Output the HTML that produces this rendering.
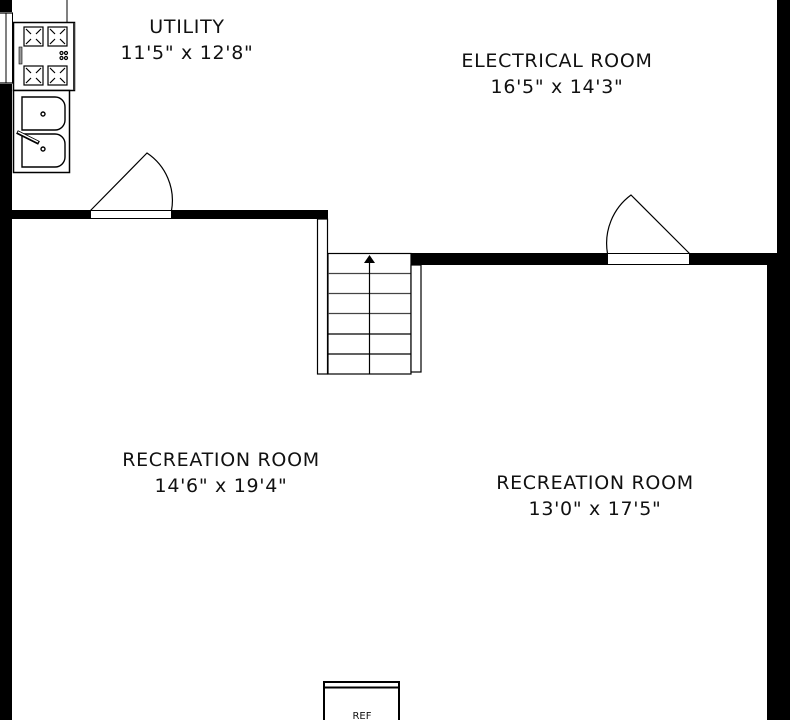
<!DOCTYPE html>
<html><head><meta charset="utf-8"><style>
html,body{margin:0;padding:0;background:#fff;}
svg{display:block;}
text{font-family:"DejaVu Sans","Liberation Sans",sans-serif;font-size:19px;letter-spacing:0.7px;fill:#111;text-anchor:middle;}
</style></head><body>
<svg width="790" height="720" viewBox="0 0 790 720" xmlns="http://www.w3.org/2000/svg">
<rect width="790" height="720" fill="#fff"/>
<rect x="0" y="0" width="12" height="12" fill="#000"/>
<rect x="0" y="84" width="12" height="636" fill="#000"/>
<line x1="0" y1="13" x2="13" y2="13" stroke="#000" stroke-width="1.2"/>
<line x1="0" y1="83" x2="13" y2="83" stroke="#000" stroke-width="1.2"/>
<line x1="6" y1="13" x2="6" y2="83" stroke="#000" stroke-width="1"/>
<line x1="12.5" y1="13" x2="12.5" y2="83" stroke="#000" stroke-width="1"/>
<line x1="67" y1="0" x2="67" y2="22" stroke="#000" stroke-width="1"/>
<rect x="13.5" y="22.5" width="61" height="68" fill="#fff" stroke="#000" stroke-width="1.5"/>
<rect x="73" y="23" width="2" height="67" fill="#333"/>
<rect x="19" y="47" width="3" height="17" fill="#999" stroke="#000" stroke-width="0.6"/>
<g stroke="#000" stroke-width="1.2" fill="none">
<rect x="24" y="27" width="19" height="19"/><rect x="48" y="27" width="19" height="19"/>
<rect x="24" y="66" width="19" height="19"/><rect x="48" y="66" width="19" height="19"/>
<path d="M26 29l5 5M41 29l-5 5M26 44l5-5M41 44l-5-5M50 29l5 5M65 29l-5 5M50 44l5-5M65 44l-5-5M26 68l5 5M41 68l-5 5M26 83l5-5M41 83l-5-5M50 68l5 5M65 68l-5 5M50 83l5-5M65 83l-5-5"/>
<circle cx="61.5" cy="53" r="1.5"/><circle cx="66" cy="53" r="1.5"/><circle cx="61.5" cy="58" r="1.5"/><circle cx="66" cy="58" r="1.5"/>
</g>
<rect x="13.5" y="90.5" width="56" height="82" fill="#fff" stroke="#000" stroke-width="1.5"/>
<g stroke="#000" stroke-width="1.4" fill="none">
<path d="M22 97h33a10 10 0 0 1 10 10v13a10 10 0 0 1-10 10h-33z"/>
<path d="M22 134h33a10 10 0 0 1 10 10v13a10 10 0 0 1-10 10h-33z"/>
<circle cx="43" cy="114" r="2"/><circle cx="43" cy="149" r="2"/>
</g>
<line x1="17" y1="132" x2="39" y2="143" stroke="#000" stroke-width="4"/>
<line x1="18" y1="132" x2="38" y2="142" stroke="#fff" stroke-width="1.5"/>
<rect x="12" y="210" width="316" height="9" fill="#000"/>
<rect x="90.5" y="210.5" width="81" height="8" fill="#fff" stroke="#000" stroke-width="1"/>
<path d="M90.5 210.5L147 153A57 57 0 0 1 171.5 210.5" fill="none" stroke="#000" stroke-width="1.2"/>
<rect x="317.5" y="219" width="10" height="155" fill="#fff" stroke="#000" stroke-width="1.2"/>
<rect x="328" y="253.5" width="83" height="120.5" fill="#fff" stroke="#000" stroke-width="1.2"/>
<g stroke="#000" stroke-width="1.2">
<line x1="328" y1="273.5" x2="411" y2="273.5" stroke="#444"/>
<line x1="328" y1="293.5" x2="411" y2="293.5" stroke="#444"/>
<line x1="328" y1="313.5" x2="411" y2="313.5" stroke="#444"/>
<line x1="328" y1="334" x2="411" y2="334"/>
<line x1="328" y1="354" x2="411" y2="354"/>
<line x1="369.5" y1="258" x2="369.5" y2="374"/>
</g>
<polygon points="369.5,255 364,263 375,263" fill="#000"/>
<rect x="411" y="265" width="10" height="107" fill="#fff" stroke="#000" stroke-width="1.2"/>
<rect x="411" y="253" width="367" height="12" fill="#000"/>
<rect x="777" y="0" width="13" height="265" fill="#000"/>
<rect x="767" y="265" width="23" height="455" fill="#000"/>
<rect x="607.5" y="253.5" width="82" height="11" fill="#fff" stroke="#000" stroke-width="1"/>
<path d="M607.5 253.5A60 60 0 0 1 631 195L689.5 253.5" fill="none" stroke="#000" stroke-width="1.2"/>
<rect x="324" y="682" width="75" height="40" fill="#fff" stroke="#000" stroke-width="2"/>
<line x1="324" y1="687.5" x2="399" y2="687.5" stroke="#000" stroke-width="2"/>
<text x="362" y="719" style="font-size:10px;letter-spacing:0">REF</text>
<text x="187" y="33">UTILITY</text>
<text x="187" y="59">11'5" x 12'8"</text>
<text x="557" y="67">ELECTRICAL ROOM</text>
<text x="557" y="93">16'5" x 14'3"</text>
<text x="221" y="466">RECREATION ROOM</text>
<text x="221" y="492">14'6" x 19'4"</text>
<text x="595" y="489">RECREATION ROOM</text>
<text x="595" y="515">13'0" x 17'5"</text>
</svg>
</body></html>
